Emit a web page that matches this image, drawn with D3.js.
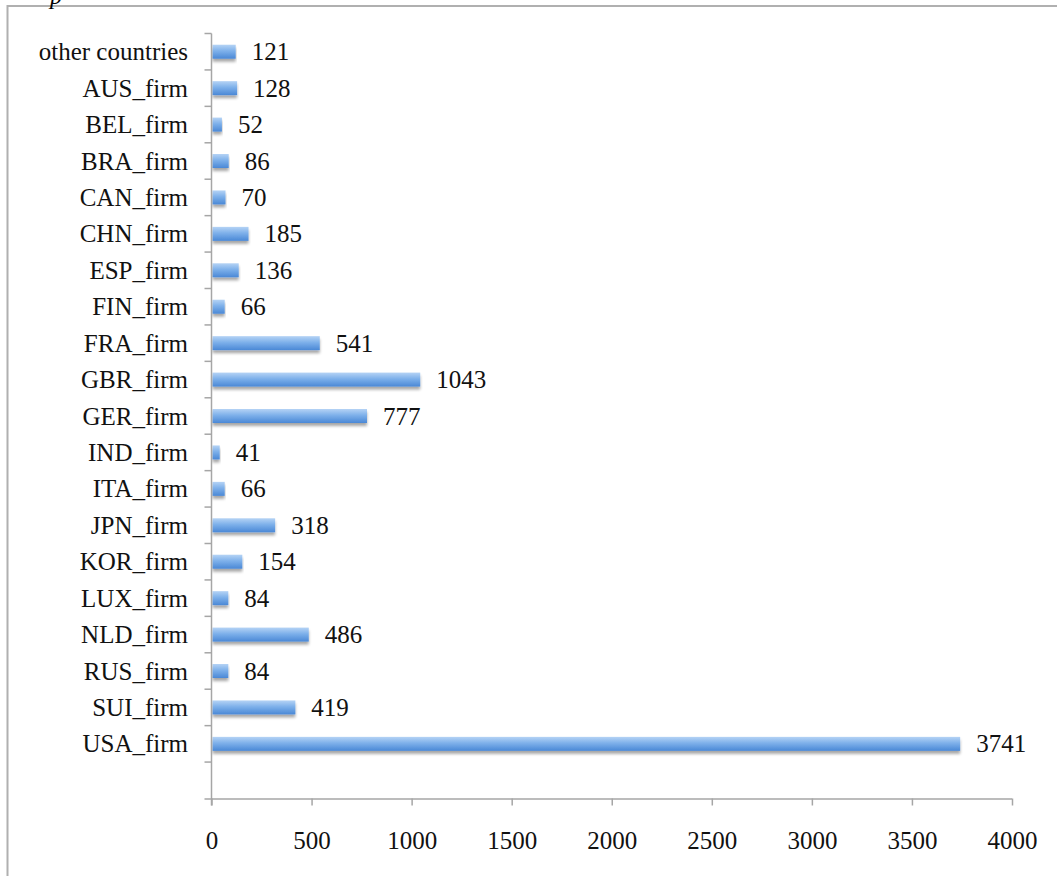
<!DOCTYPE html>
<html><head><meta charset="utf-8">
<script src="https://cdn.jsdelivr.net/npm/d3@7"></script>
<style>body{margin:0;background:#fff;}svg{display:block;}</style>
</head><body>
<svg id="c" width="1057" height="876"></svg>
<script>
const categories = ["other countries","AUS_firm","BEL_firm","BRA_firm","CAN_firm","CHN_firm","ESP_firm","FIN_firm","FRA_firm","GBR_firm","GER_firm","IND_firm","ITA_firm","JPN_firm","KOR_firm","LUX_firm","NLD_firm","RUS_firm","SUI_firm","USA_firm"];
const values = [121,128,52,86,70,185,136,66,541,1043,777,41,66,318,154,84,486,84,419,3741];
const xTicks = [0,500,1000,1500,2000,2500,3000,3500,4000];

const svg = d3.select("#c");
const font = "'Liberation Serif','Times New Roman',serif";
const axisColor = "#a6a6a6";
const fs = 25;

// frame
svg.append("path").attr("d","M7.5,876 V6 H1057").attr("fill","none").attr("stroke","#b0b0b0").attr("stroke-width",2);
svg.append("text").attr("x",50).attr("y",4).attr("font-family",font).attr("font-style","italic").attr("font-size",24).text("p");

const domain = categories.concat([""]);
const y = d3.scaleBand().domain(domain).range([33.5, 798.5]);
const x = d3.scaleLinear().domain([0,4000]).range([211.5, 1012]);

const defs = svg.append("defs");
const g = defs.append("linearGradient").attr("id","bg").attr("x1",0).attr("y1",0).attr("x2",0).attr("y2",1);
g.append("stop").attr("offset","0%").attr("stop-color","#b5d3f5");
g.append("stop").attr("offset","45%").attr("stop-color","#7db0ea");
g.append("stop").attr("offset","100%").attr("stop-color","#4a88d6");
const f = defs.append("filter").attr("id","sh").attr("x","-5%").attr("y","-30%").attr("width","110%").attr("height","180%");
f.append("feGaussianBlur").attr("in","SourceAlpha").attr("stdDeviation",1.6).attr("result","b");
f.append("feOffset").attr("in","b").attr("dx",0).attr("dy",2.5).attr("result","o");
f.append("feComponentTransfer").attr("in","o").attr("result","o2").append("feFuncA").attr("type","linear").attr("slope",0.35);
const m = f.append("feMerge"); m.append("feMergeNode").attr("in","o2"); m.append("feMergeNode").attr("in","SourceGraphic");

const barH = 14;
const data = categories.map((c,i)=>({c, v: values[i]}));

svg.append("g").selectAll("rect").data(data).join("rect")
  .attr("x", x(0)+1)
  .attr("y", d => y(d.c) + y.bandwidth()/2 - barH/2)
  .attr("width", d => x(d.v) - x(0) - 1)
  .attr("height", barH)
  .attr("fill","url(#bg)")
  .attr("filter","url(#sh)");

// value labels
svg.append("g").selectAll("text").data(data).join("text")
  .attr("x", d => x(d.v) + 16)
  .attr("y", d => y(d.c) + y.bandwidth()/2 + 8.5)
  .attr("font-family", font).attr("font-size", fs).attr("fill","#111")
  .text(d => d.v);

// category labels
svg.append("g").selectAll("text").data(categories).join("text")
  .attr("x", 188)
  .attr("y", d => y(d) + y.bandwidth()/2 + 8.5)
  .attr("text-anchor","end")
  .attr("font-family", font).attr("font-size", fs).attr("fill","#111")
  .text(d => d);

// y axis line and ticks at band boundaries
const ya = svg.append("g").attr("stroke",axisColor).attr("stroke-width",1.5);
ya.append("line").attr("x1",x(0)).attr("x2",x(0)).attr("y1",y.range()[0]).attr("y2",y.range()[1]+7);
ya.selectAll("line.t").data(domain).join("line").attr("class","t")
  .attr("x1",x(0)-7).attr("x2",x(0))
  .attr("y1",d=>y(d)).attr("y2",d=>y(d));

// x axis
const xa = svg.append("g").attr("transform",`translate(0,${y.range()[1]})`)
  .call(d3.axisBottom(x).tickValues(xTicks).tickFormat(d3.format("d")).tickSize(7).tickSizeOuter(0).tickPadding(26));
xa.select(".domain").attr("stroke",axisColor).attr("stroke-width",1.5).attr("d",`M${x(0)-7},0.5H${x(4000)}`);
xa.selectAll(".tick line").attr("stroke",axisColor).attr("stroke-width",1.5);
xa.selectAll(".tick text").attr("font-family",font).attr("font-size",fs).attr("fill","#111");
</script>
</body></html>
